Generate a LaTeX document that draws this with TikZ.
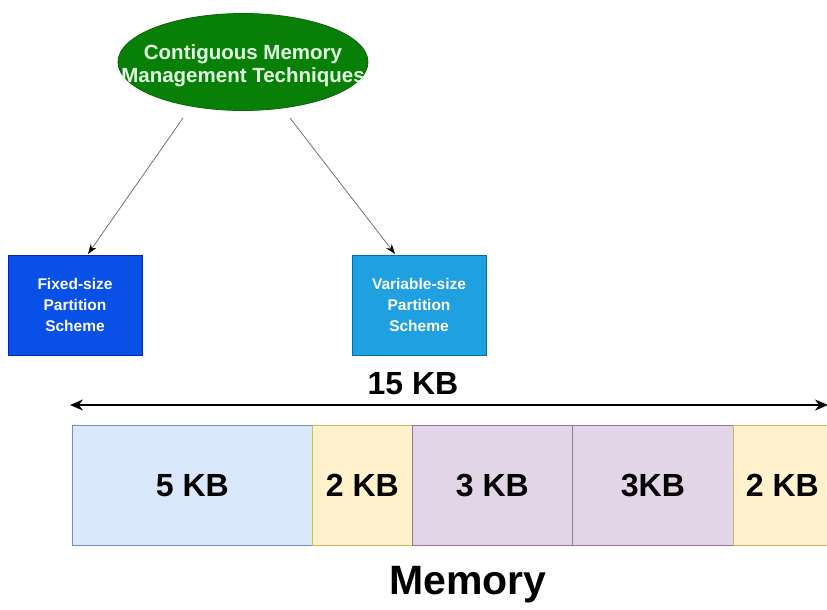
\documentclass[tikz,border=0pt]{standalone}
\usepackage{fontspec}
\setmainfont{Liberation Sans}
\usetikzlibrary{shapes.geometric,arrows.meta}
\definecolor{ellgreen}{RGB}{8,128,8}
\definecolor{ellborder}{RGB}{10,100,10}
\definecolor{elltext}{RGB}{225,255,225}
\definecolor{fixblue}{RGB}{8,80,230}
\definecolor{fixborder}{RGB}{0,40,180}
\definecolor{varblue}{RGB}{30,160,225}
\definecolor{varborder}{RGB}{0,110,175}
\definecolor{memblue}{RGB}{218,232,252}
\definecolor{memblueb}{RGB}{108,142,191}
\definecolor{memyel}{RGB}{255,242,204}
\definecolor{memyelb}{RGB}{214,182,86}
\definecolor{mempur}{RGB}{225,213,231}
\definecolor{mempurb}{RGB}{150,115,166}
\tikzset{
  schemebox/.style={draw=#1, line width=0.8pt, minimum width=134pt, minimum height=100pt, inner sep=0pt,
    text=white, font=\fontsize{15.5}{21}\selectfont\bfseries, align=center},
  memcell/.style n args={3}{draw=#2, fill=#1, line width=0.8pt, minimum width=#3, minimum height=120pt,
    inner sep=0pt, anchor=north west, font=\fontsize{32}{36}\selectfont\bfseries},
  thinarrow/.style={draw=black!60, line width=0.7pt, -{Stealth[length=10pt,width=7pt,color=black]}},
}
\begin{document}
\begin{tikzpicture}[x=1pt,y=-1pt]
\useasboundingbox (0,0) rectangle (827,610);
\clip (0,0) rectangle (827,610);
\fill[white] (0,0) rectangle (827,610);

\node[ellipse, draw=ellborder, fill=ellgreen, line width=0.8pt, minimum width=250pt, minimum height=97pt,
  inner sep=0pt] (root) at (243,62) {};
\node[text=elltext, font=\fontsize{20.5}{23}\selectfont\bfseries, align=center, inner sep=0pt]
  (roottext) at (243,66) {Contiguous Memory\\Management Techniques};

\node[schemebox=fixborder, fill=fixblue] (fixed) at (75,305) {Fixed-size\\Partition\\Scheme};
\node[schemebox=varborder, fill=varblue] (var) at (419,305) {Variable-size\\Partition\\Scheme};

\coordinate (r1) at (183,118);
\coordinate (r2) at (290,118);
\coordinate (f1) at (88,254);
\coordinate (v1) at (395,254);
\draw[thinarrow] (r1) -- (f1);
\draw[thinarrow] (r2) -- (v1);

\node[font=\fontsize{32}{36}\selectfont\bfseries] (total) at (413,384) {15 KB};
\coordinate (aL) at (70,405);
\coordinate (aR) at (828,405);
\draw[line width=1.8pt, {Stealth[length=13pt,width=11pt]}-{Stealth[length=13pt,width=11pt]}] (aL) -- (aR);

\node[memcell={memblue}{memblueb}{240pt}] (m1) at (72,425) {5 KB};
\node[memcell={memyel}{memyelb}{100pt}] (m2) at (312,425) {2 KB};
\node[memcell={mempur}{mempurb}{160pt}] (m3) at (412,425) {3 KB};
\node[memcell={mempur}{mempurb}{161pt}] (m4) at (572,425) {3KB};
\node[memcell={memyel}{memyelb}{98pt}] (m5) at (733,425) {2 KB};

\node[font=\fontsize{41}{44}\selectfont\bfseries] (mem) at (468,585) {Memory};
\end{tikzpicture}
\end{document}
